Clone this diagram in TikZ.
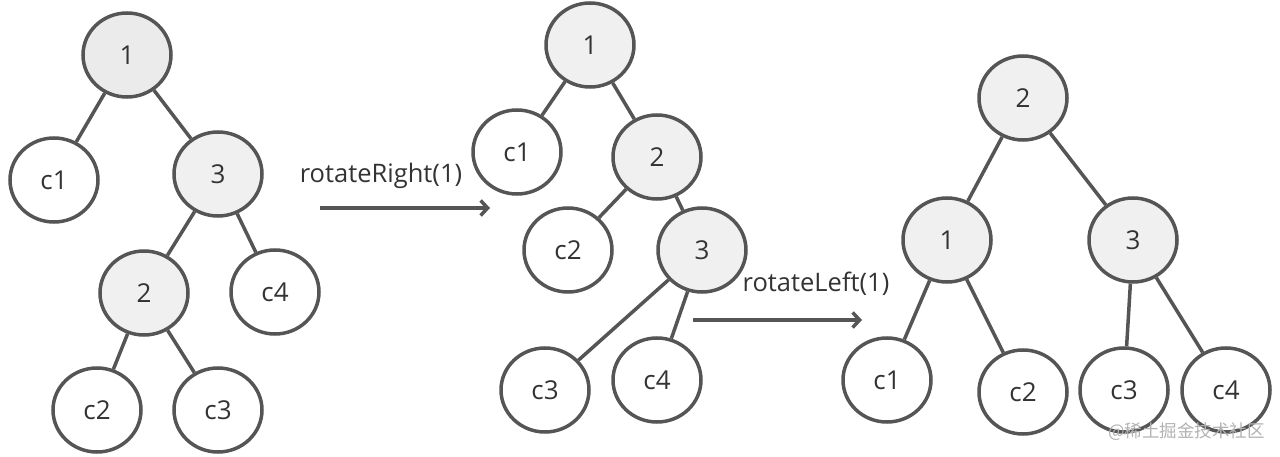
\documentclass[tikz,border=0pt]{standalone}
\usepackage{fontspec}
\setmainfont{Open Sans}
\newfontfamily\cjk{Noto Sans CJK SC}
\definecolor{edge}{HTML}{555555}
\definecolor{gfill}{HTML}{F0F0F0}
\definecolor{gfillA}{HTML}{EBEBEB}
\definecolor{txt}{HTML}{333333}
\begin{document}
\begin{tikzpicture}[x=1pt,y=-1pt,
  tn/.style={ellipse,draw=edge,line width=3.5pt,minimum width=88pt,minimum height=84pt,inner sep=0pt,fill=white,text=txt,font=\fontsize{26}{30}\selectfont},
  gn/.style={tn,fill=gfill},
  ed/.style={draw=edge,line width=3.5pt},
  ar/.style={draw=edge,line width=3.5pt,-{Straight Barb[length=7pt,width=15pt]}},
  lbl/.style={text=txt,font=\fontsize{25.5}{30}\selectfont,inner sep=0pt}]
\usetikzlibrary{shapes.geometric,arrows.meta}
\useasboundingbox (0,0) rectangle (1280,457);
% tree 1
\node[gn,fill=gfillA] (a1) at (127,55) {1};
\node[tn] (ac1) at (54,180) {c1};
\node[gn] (a3) at (218,174) {3};
\node[gn] (a2) at (144,293) {2};
\node[tn] (ac4) at (275,292) {c4};
\node[tn] (ac2) at (97,410) {c2};
\node[tn] (ac3) at (218,410) {c3};
\draw[ed] (a1) -- (ac1);
\draw[ed] (a1) -- (a3);
\draw[ed] (a3) -- (a2);
\draw[ed] (a3) -- (ac4);
\draw[ed] (a2) -- (ac2);
\draw[ed] (a2) -- (ac3);
% arrow 1
\coordinate (r1s) at (320,208);
\coordinate (r1e) at (490,208);
\draw[ar] (r1s) -- (r1e);
\node[lbl] (l1) at (381,176) {rotateRight(1)};
% tree 2
\node[gn] (b1) at (590,45) {1};
\node[tn] (bc1) at (517,152) {c1};
\node[gn] (b2) at (657,157) {2};
\node[tn] (bc2) at (568,250) {c2};
\node[gn] (b3) at (702,250) {3};
\node[tn] (bc3) at (545,390) {c3};
\node[tn] (bc4) at (657,380) {c4};
\draw[ed] (b1) -- (bc1);
\draw[ed] (b1) -- (b2);
\draw[ed] (b2) -- (bc2);
\draw[ed] (b2) -- (b3);
\draw[ed] (b3) -- (bc3);
\draw[ed] (b3) -- (bc4);
% arrow 2
\coordinate (r2s) at (693,320);
\coordinate (r2e) at (862,320);
\draw[ar] (r2s) -- (r2e);
\node[lbl] (l2) at (816,284) {rotateLeft(1)};
% tree 3
\node[gn] (c2n) at (1023,98) {2};
\node[gn] (c1n) at (947,240) {1};
\node[gn] (c3n) at (1133,240) {3};
\node[tn] (cc1) at (887,380) {c1};
\node[tn] (cc2) at (1023,392) {c2};
\node[tn] (cc3) at (1124,390) {c3};
\node[tn] (cc4) at (1226,390) {c4};
\draw[ed] (c2n) -- (c1n);
\draw[ed] (c2n) -- (c3n);
\draw[ed] (c1n) -- (cc1);
\draw[ed] (c1n) -- (cc2);
\draw[ed] (c3n) -- (cc3);
\draw[ed] (c3n) -- (cc4);
% watermark
\node[text=black!30,font=\cjk\fontsize{17.5}{21}\selectfont,inner sep=0pt,anchor=east] (wm) at (1265,432) {@稀土掘金技术社区};
\end{tikzpicture}
\end{document}
